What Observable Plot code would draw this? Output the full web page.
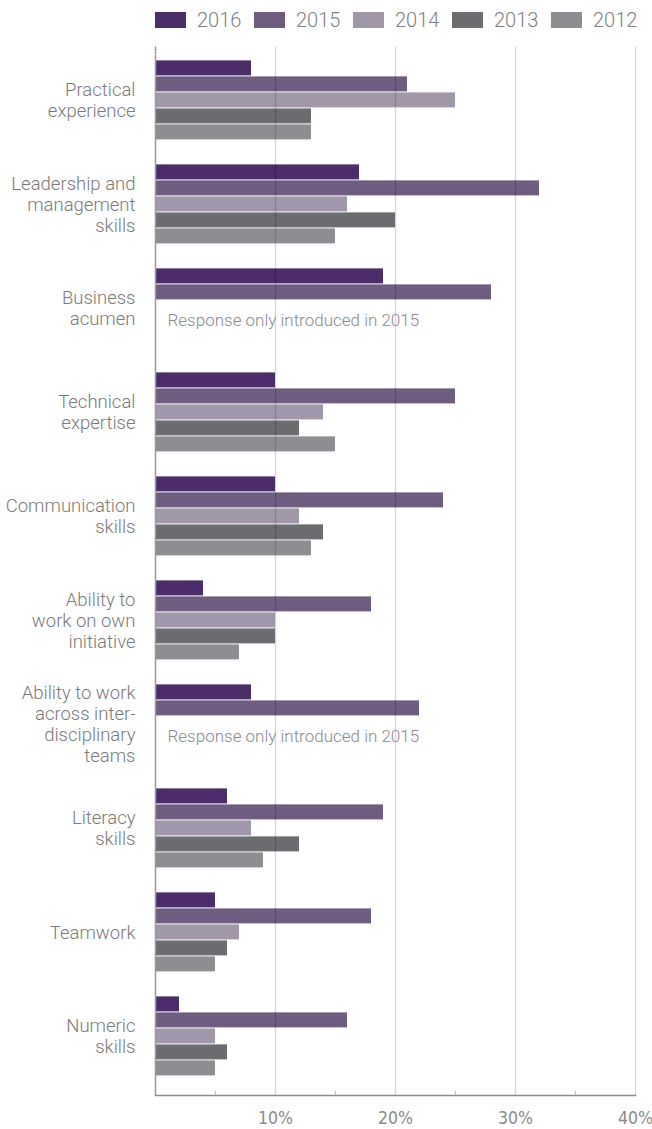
<!DOCTYPE html>
<html>
<head>
<meta charset="utf-8">
<script src="https://cdn.jsdelivr.net/npm/d3@7"></script>
<script src="https://cdn.jsdelivr.net/npm/@observablehq/plot@0.6"></script>
<style>
  html, body { margin: 0; padding: 0; background: #fff; }
  #legend { height: 40px; position: relative; font-family: Roboto, "Liberation Sans", sans-serif; font-weight: 300; }
  .item { position: absolute; top: 0; height: 40px; display: flex; align-items: center; }
  .sw { width: 31px; height: 16px; margin-right: 11px; }
  .lab { font-size: 20px; color: #7f7f7f; }
  #chart svg { display: block; }
</style>
</head>
<body>
<div id="legend"></div>
<div id="chart"></div>
<script>
const categories = [
  "Practical\nexperience",
  "Leadership and\nmanagement\nskills",
  "Business\nacumen",
  "Technical\nexpertise",
  "Communication\nskills",
  "Ability to\nwork on own\ninitiative",
  "Ability to work\nacross inter-\ndisciplinary\nteams",
  "Literacy\nskills",
  "Teamwork",
  "Numeric\nskills"
];
const years = ["2016", "2015", "2014", "2013", "2012"];
const v2016 = [8, 17, 19, 10, 10, 4, 8, 6, 5, 2];
const v2015 = [21, 32, 28, 25, 24, 18, 22, 19, 18, 16];
const v2014 = [25, 16, null, 14, 12, 10, null, 8, 7, 5];
const v2013 = [13, 20, null, 12, 14, 10, null, 12, 6, 6];
const v2012 = [13, 15, null, 15, 13, 7, null, 9, 5, 5];
const colors = ["#4b2d6b", "#6e5d80", "#a097a9", "#6c6d71", "#8d8e92"];
const noteCategories = [categories[2], categories[6]];
const noteText = "Response only introduced in 2015";
const xTicks = [10, 20, 30, 40];
const minorTicks = [5, 15, 25, 35];

const series = [v2016, v2015, v2014, v2013, v2012];
const data = [];
categories.forEach((c, i) => {
  years.forEach((y, j) => {
    const v = series[j][i];
    if (v != null) data.push({category: c, year: y, value: v});
  });
});
const notes = noteCategories.map(c => ({category: c, text: noteText}));

// legend
const legend = document.getElementById("legend");
years.forEach((y, i) => {
  const it = document.createElement("div");
  it.className = "item";
  it.style.left = (155 + i * 99) + "px";
  it.innerHTML = `<div class="sw" style="background:${colors[i]}"></div><div class="lab">${y}</div>`;
  legend.appendChild(it);
});

const labelFont = "Roboto, 'Liberation Sans', sans-serif";
const H = 1089, MT = 12.6, MB = 32;
const bw = (H - MT - MB) / categories.length;
const topExt = 8.6;

const chart = Plot.plot({
  width: 652,
  height: H,
  marginTop: MT,
  marginBottom: MB,
  marginLeft: 155,
  marginRight: 17,
  style: {fontFamily: labelFont, background: "#fff"},
  x: {domain: [0, 40], axis: null},
  y: {domain: years, paddingInner: 0.05, paddingOuter: 0.6708, align: 0.198, axis: null},
  fy: {domain: categories, paddingInner: 0, paddingOuter: 0},
  color: {domain: years, range: colors},
  marks: [
    Plot.barX(data, {fy: "category", y: "year", x: "value", fill: "year"}),
    Plot.gridX({ticks: xTicks, stroke: "#000", strokeOpacity: 0.16, strokeWidth: 1.3}),
    Plot.gridX({ticks: xTicks, facetAnchor: "top", insetTop: -topExt, insetBottom: bw, stroke: "#000", strokeOpacity: 0.16, strokeWidth: 1.3}),
    Plot.ruleX([0], {stroke: "#9a9a9a", strokeWidth: 1.5}),
    Plot.ruleX([0], {facetAnchor: "top", insetTop: -topExt, insetBottom: bw, stroke: "#9a9a9a", strokeWidth: 1.5}),
    Plot.frame({facetAnchor: "bottom", anchor: "bottom", stroke: "#8a8a8a", strokeWidth: 1.3}),
    Plot.axisX({ticks: minorTicks, tickSize: -4, tickFormat: () => "", stroke: "#bbb", label: null}),
    Plot.axisX({ticks: xTicks, tickSize: 0, tickPadding: 16,
      tickFormat: d => d + "%", fontSize: 17.5, fill: "#8a8a8a", fontWeight: "normal",
      fontFamily: "'Liberation Sans Narrow', 'DejaVu Sans Condensed', sans-serif", label: null}),
    Plot.axisFy({anchor: "left", tickSize: 0, tickPadding: 20, dy: -7.5, fontSize: 18.5, lineHeight: 1.14,
      fill: "#7a7a7a", label: null, fontWeight: 300}),
    Plot.text(notes, {fy: "category", text: "text", frameAnchor: "left", textAnchor: "start",
      dx: 12, dy: 5.5, fill: "#8a8a8a", fontSize: 17, fontWeight: 300})
  ]
});
document.getElementById("chart").appendChild(chart);
</script>
</body>
</html>
